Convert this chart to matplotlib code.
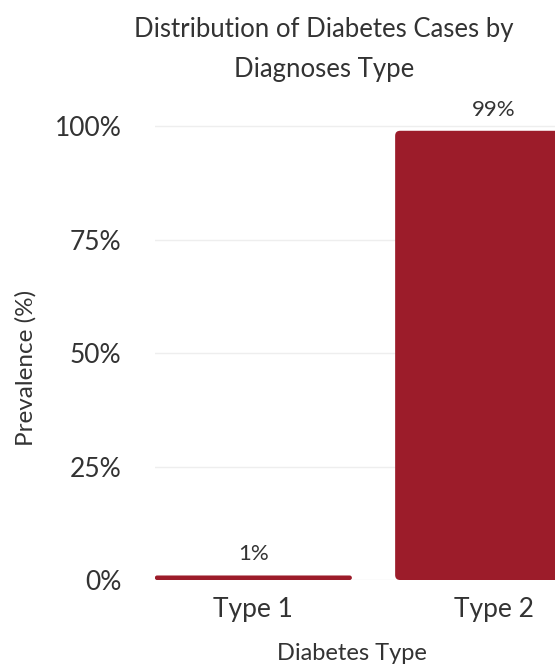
import matplotlib
matplotlib.use("Agg")
import matplotlib.pyplot as plt
from matplotlib.patches import FancyBboxPatch
from matplotlib.ticker import PercentFormatter

plt.rcParams['font.family'] = ['Lato', 'DejaVu Sans']

# prevalence of each diagnosis type (%)
types = ["Type 1", "Type 2"]
prevalence = [1, 99]
y_ticks = [0, 25, 50, 75, 100]

bar_color = "#9c1c2a"
text_color = "#333333"

fig = plt.figure(figsize=(5.55, 6.69), dpi=100)
fig.patch.set_facecolor("white")
# the plot area runs past the right edge, so Type 2 is cut off
ax = fig.add_axes([0.279, 0.133, 0.788, 0.719])

x = list(range(len(types)))
bars = ax.bar(x, prevalence, width=0.82, color=bar_color, zorder=2)

ax.set_xlim(-0.41, 1.41)
ax.set_ylim(0, 106)

# swap the plain rectangles for ones with softly rounded corners
fig.canvas.draw()
px_x = ax.transData.transform((1, 0))[0] - ax.transData.transform((0, 0))[0]
px_y = ax.transData.transform((0, 1))[1] - ax.transData.transform((0, 0))[1]
for b in bars:
    b.set_visible(False)
    r = min(5, b.get_height() * px_y / 2) / px_x
    ax.add_patch(FancyBboxPatch((b.get_x(), b.get_y()), b.get_width(), b.get_height(),
                                boxstyle=f"round,pad=0,rounding_size={r}",
                                mutation_aspect=px_x / px_y,
                                facecolor=bar_color, edgecolor="none", zorder=2))

for b, v in zip(bars, prevalence):
    ax.annotate(f"{v}%", (b.get_x() + b.get_width() / 2, v),
                xytext=(0, 8), textcoords="offset points",
                ha="center", va="bottom", fontsize=16, color=text_color)

ax.set_xticks(x)
ax.set_xticklabels(types, fontsize=19, color=text_color)
ax.set_yticks(y_ticks)
ax.yaxis.set_major_formatter(PercentFormatter(decimals=0))
ax.tick_params(axis="y", labelsize=19, colors=text_color, length=0, pad=24)
ax.tick_params(axis="x", length=0, pad=12)
ax.grid(axis="y", color="#eeeeee", linewidth=1, zorder=0)
for s in ax.spines.values():
    s.set_visible(False)

ax.set_ylabel("Prevalence (%)", fontsize=17.5, color=text_color)
ax.yaxis.set_label_coords(-0.27, 0.44)
ax.set_xlabel("Diabetes Type", fontsize=17, color=text_color)
ax.xaxis.set_label_coords(0.45, -0.13)

fig.text(0.584, 0.975, "Distribution of Diabetes Cases by\nDiagnoses Type",
         ha="center", va="top", fontsize=18.5, color=text_color, linespacing=1.75)

fig.savefig("out.png", dpi=100, facecolor="white")
